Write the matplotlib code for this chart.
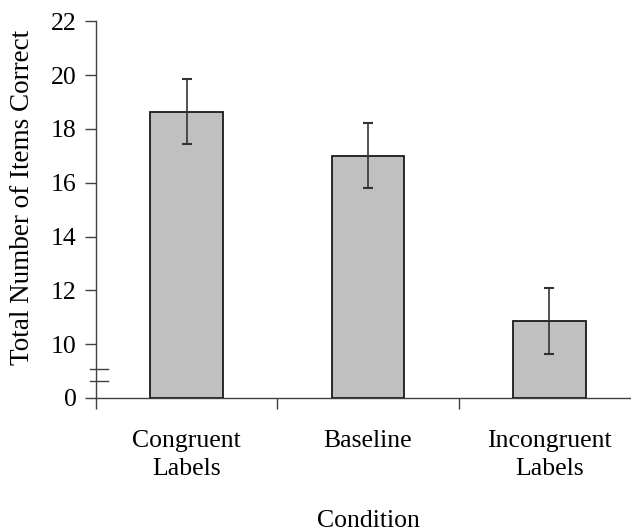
import matplotlib
matplotlib.use("Agg")
import matplotlib.pyplot as plt
import numpy as np

conditions = ["Congruent\nLabels", "Baseline", "Incongruent\nLabels"]
means = [18.64, 17.01, 10.85]
errors = [1.22, 1.22, 1.23]
ytick_values = [0, 10, 12, 14, 16, 18, 20, 22]


# broken axis: 0..9 squeezed into one unit, linear above 9
def fwd(v):
    v = np.asarray(v, dtype=float)
    return np.where(v >= 9, v, 8 + v / 9.0)


def inv(v):
    v = np.asarray(v, dtype=float)
    return np.where(v >= 9, v, (v - 8) * 9.0)


plt.rcParams["font.family"] = ["Liberation Serif", "DejaVu Serif"]
axis_color = "#404040"
fs = 18.5

fig = plt.figure(figsize=(6.31, 5.31), dpi=100)
ax = fig.add_axes([0.152, 0.2505, 0.848, 0.7095])
ax.set_yscale("function", functions=(fwd, inv))

x = np.arange(len(conditions))
ax.bar(x, means, width=0.40, color="#c0c0c0", edgecolor="#1a1a1a", linewidth=1.3, zorder=2)
ax.errorbar(x, means, yerr=errors, fmt="none", ecolor="#333333", elinewidth=1.2,
            capsize=3.5, capthick=1.5, zorder=3)

ax.set_ylim(0, 22)
ax.set_xlim(-0.5, 2.45)
ax.set_yticks(ytick_values)
ax.set_yticklabels([str(v) for v in ytick_values])
ax.yaxis.set_minor_locator(matplotlib.ticker.NullLocator())
ax.set_xticks([-0.5, 0.5, 1.5])
ax.set_xticklabels([])
ax.tick_params(axis="both", direction="out", length=8, width=1, color=axis_color,
               labelsize=fs)
ax.tick_params(axis="y", pad=6)

for i, lab in enumerate(conditions):
    ax.text(i, -0.085, lab, transform=ax.get_xaxis_transform(), ha="center", va="top",
            fontsize=fs, linespacing=1.38)
ax.text((368 - 96) / 535, -0.342, "Condition",
        transform=ax.transAxes, ha="center", va="baseline", fontsize=fs)

ax.set_ylabel("Total Number of Items Correct", fontsize=19.5)
ax.yaxis.set_label_coords(-0.114, 0.532)

for side in ["top", "right"]:
    ax.spines[side].set_visible(False)
for side in ["left", "bottom"]:
    ax.spines[side].set_color(axis_color)
    ax.spines[side].set_linewidth(1.0)

# break marks on the y axis
for yb in [0.0777, 0.045]:
    ax.plot([-0.011, 0.0224], [yb, yb], color=axis_color, lw=1.0, clip_on=False,
            transform=ax.transAxes, zorder=4)

fig.savefig("out.png", dpi=100)
